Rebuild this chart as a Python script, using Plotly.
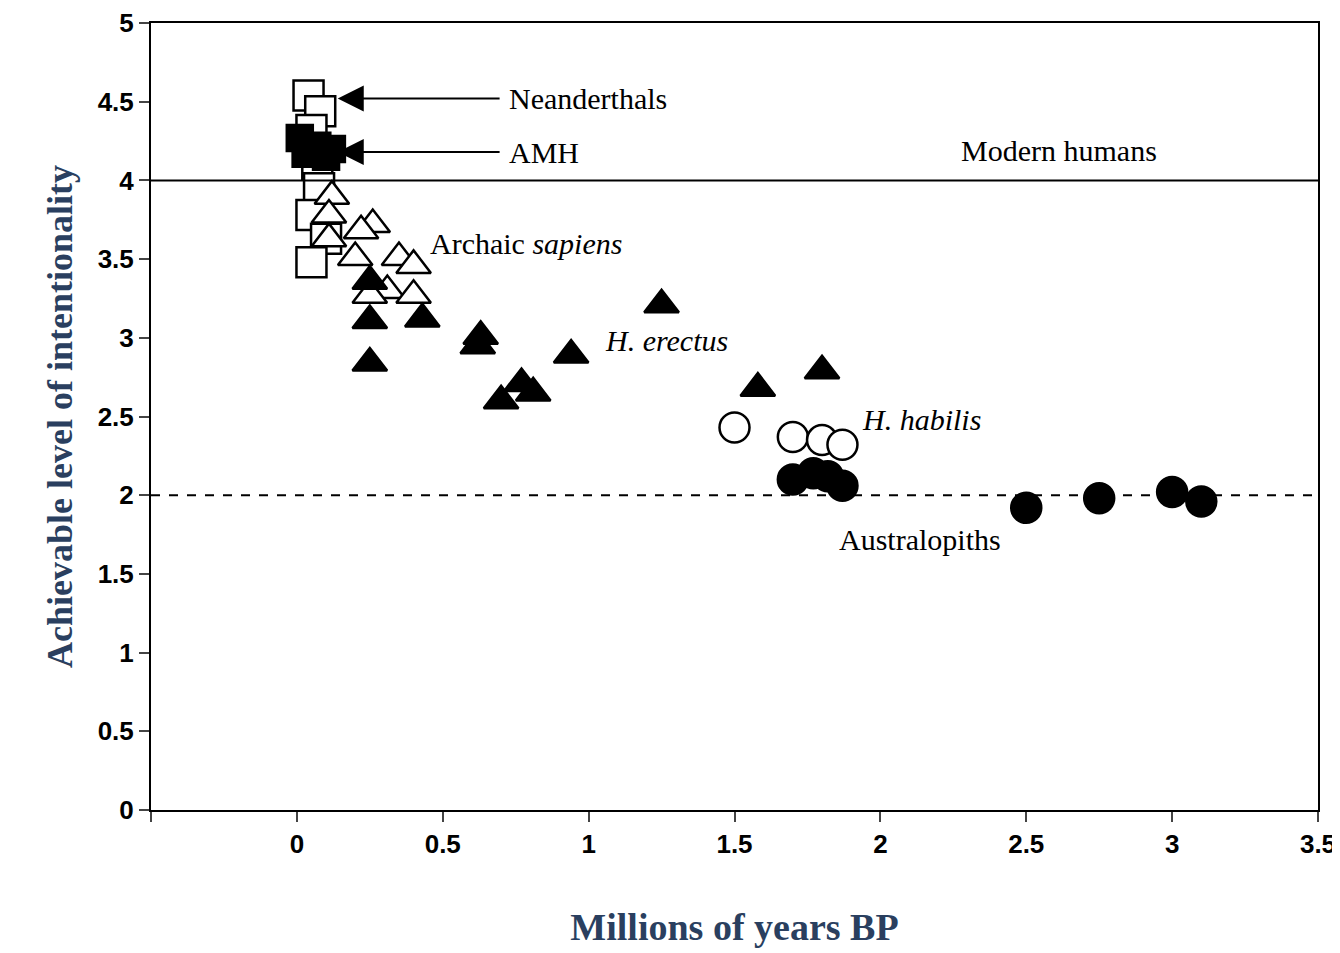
import plotly.graph_objects as go

sq_open_x = [0.04, 0.08, 0.05, 0.07, 0.076, 0.05, 0.1, 0.05]
sq_open_y = [4.54, 4.44, 4.32, 4.1, 3.95, 3.78, 3.63, 3.48]
sq_fill_x = [0.01, 0.07, 0.12, 0.03, 0.1]
sq_fill_y = [4.27, 4.22, 4.2, 4.17, 4.15]
tri_open_x = [0.12, 0.11, 0.26, 0.22, 0.11, 0.2, 0.35, 0.4, 0.31, 0.25, 0.4]
tri_open_y = [3.9, 3.78, 3.72, 3.68, 3.63, 3.51, 3.51, 3.46, 3.3, 3.27, 3.27]
tri_fill_x = [0.25, 0.25, 0.43, 0.25, 0.63, 0.62, 0.7, 0.77, 0.81, 0.94, 1.25, 1.58, 1.8]
tri_fill_y = [3.36, 3.11, 3.12, 2.84, 3.01, 2.95, 2.6, 2.71, 2.65, 2.89, 3.21, 2.68, 2.79]
circ_open_x = [1.5, 1.7, 1.8, 1.87]
circ_open_y = [2.43, 2.37, 2.35, 2.32]
circ_fill_x = [1.7, 1.77, 1.82, 1.87, 2.5, 2.75, 3.0, 3.1]
circ_fill_y = [2.1, 2.14, 2.12, 2.06, 1.92, 1.98, 2.02, 1.96]

fig = go.Figure()

def add(x, y, sym, fill, size):
    fig.add_trace(go.Scatter(x=x, y=y, mode="markers", showlegend=False,
                             marker=dict(symbol=sym, size=size,
                                         color="black" if fill else "white",
                                         line=dict(color="black", width=2.5))))

add(sq_open_x, sq_open_y, "square", False, 30)
add(sq_fill_x, sq_fill_y, "square", True, 26)
add(tri_open_x, tri_open_y, "triangle-up", False, 30)
add(tri_fill_x, tri_fill_y, "triangle-up", True, 30)
add(circ_open_x, circ_open_y, "circle", False, 30)
add(circ_fill_x, circ_fill_y, "circle", True, 30)

fig.add_hline(y=4, line=dict(color="black", width=2))
fig.add_hline(y=2, line=dict(color="black", width=2, dash="dash"))

serif = "Liberation Serif"
for yv, txt in [(4.52, "Neanderthals"), (4.18, "AMH")]:
    fig.add_annotation(x=0.14, y=yv, ax=0.7, ay=yv, axref="x", ayref="y",
                       showarrow=True, arrowhead=2, arrowsize=2.6, arrowwidth=2,
                       arrowcolor="black", text="")
    fig.add_annotation(x=0.72, y=yv, text=txt, showarrow=False, xanchor="left",
                       font=dict(family=serif, size=30, color="black"))

labels = [(2.27, 4.19, "Modern humans"), (0.45, 3.6, "Archaic <i>sapiens</i>"),
          (1.05, 2.98, "<i>H. erectus</i>"), (1.93, 2.48, "<i>H. habilis</i>"),
          (1.85, 1.72, "Australopiths")]
for x, y, t in labels:
    fig.add_annotation(x=x, y=y, text=t, showarrow=False, xanchor="left",
                       font=dict(family=serif, size=30, color="black"))

tickf = dict(family="Arial", size=26, color="black", weight="bold")
fig.update_xaxes(range=[-0.5, 3.5], tickvals=[-0.5, 0, 0.5, 1, 1.5, 2, 2.5, 3, 3.5],
                 ticktext=["", "0", "0.5", "1", "1.5", "2", "2.5", "3", "3.5"],
                 ticks="outside", ticklen=10, tickwidth=2, showgrid=False, zeroline=False,
                 showline=True, linecolor="black", linewidth=2, mirror=True,
                 automargin=False, tickfont=tickf,
                 title=dict(text="<b>Millions of years BP</b>",
                            font=dict(family=serif, size=38), standoff=55))
fig.update_yaxes(range=[0, 5], dtick=0.5, ticks="outside", ticklen=10, tickwidth=2,
                 showgrid=False, zeroline=False, showline=True, linecolor="black",
                 linewidth=2, mirror=True, automargin=False, tickfont=tickf,
                 title=dict(text="<b>Achievable level of intentionality</b>",
                            font=dict(family=serif, size=36), standoff=14))

fig.update_layout(width=1340, height=953, plot_bgcolor="white", paper_bgcolor="white",
                  margin=dict(l=143, r=30, t=15, b=151))
fig.write_html("out.html")
